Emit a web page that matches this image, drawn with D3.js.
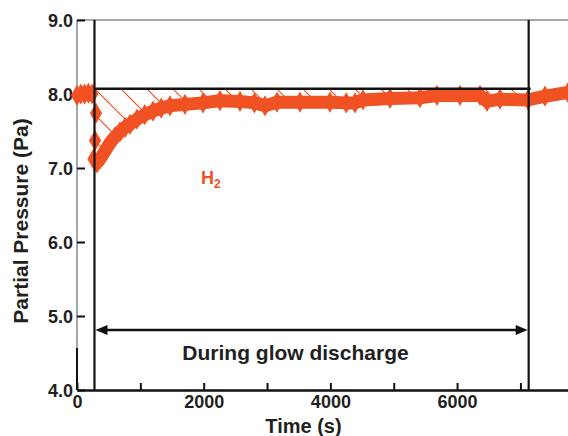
<!DOCTYPE html>
<html>
<head>
<meta charset="utf-8">
<script src="https://cdn.jsdelivr.net/npm/d3@7"></script>
<style>
  body { margin: 0; background: #fff; }
  svg text { font-family: "Liberation Sans", Arial, Helvetica, sans-serif; font-weight: bold; fill: #231f20; }
</style>
</head>
<body>
<svg id="chart" width="568" height="436"></svg>
<script>
// H2 partial pressure before the discharge (s, Pa)
const preTime = [0, 60, 120, 180, 240];
const prePressure = [7.98, 8.0, 8.0, 8.01, 8.0];

// scattered points of the sudden drop
const dropTime = [300, 285, 260];
const dropPressure = [7.74, 7.37, 7.12];

// main curve during/after the discharge
const curveTime = [316, 363, 442, 521, 600, 679, 760, 837, 947, 1070, 1200, 1330, 1468, 1705, 1989, 2257, 2573,
  2800, 2968, 3157, 3520, 3994, 4250, 4388, 4515, 4941, 5414, 5683, 6046, 6362, 6472, 6677, 7119, 7388, 7751];
const curvePressure = [7.07, 7.12, 7.23, 7.34, 7.42, 7.49, 7.55, 7.59, 7.66, 7.72, 7.77, 7.81, 7.84, 7.86, 7.88, 7.91, 7.90,
  7.88, 7.84, 7.89, 7.89, 7.89, 7.88, 7.88, 7.92, 7.94, 7.95, 7.98, 7.98, 7.98, 7.90, 7.93, 7.92, 7.97, 8.02];

const dischargeStart = 276;
const dischargeEnd = 7130;
const refLevel = 8.07;
const arrowLevel = 4.81;

const xTicks = [0, 1000, 2000, 3000, 4000, 5000, 6000, 7000];
const xTickLabels = ['0', '', '2000', '', '4000', '', '6000', ''];
const yTicks = [4, 5, 6, 7, 8, 9];
const yTickLabels = ['4.0', '5.0', '6.0', '7.0', '8.0', '9.0'];

const orange = '#f05224';

const svg = d3.select('#chart');
const x = d3.scaleLinear().domain([0, 7751]).range([77, 568]);
const y = d3.scaleLinear().domain([4, 9]).range([390, 20]);

// hatch pattern
const defs = svg.append('defs');
const pat = defs.append('pattern')
  .attr('id', 'hatch')
  .attr('patternUnits', 'userSpaceOnUse')
  .attr('width', 26).attr('height', 26)
  .attr('x', 94).attr('y', 88);
pat.append('line')
  .attr('x1', 0).attr('y1', 0).attr('x2', 26).attr('y2', 26)
  .attr('stroke', orange).attr('stroke-width', 1.2);
pat.append('line')
  .attr('x1', -13).attr('y1', 13).attr('x2', 13).attr('y2', 39)
  .attr('stroke', orange).attr('stroke-width', 1.2);
pat.append('line')
  .attr('x1', 13).attr('y1', -13).attr('x2', 39).attr('y2', 13)
  .attr('stroke', orange).attr('stroke-width', 1.2);

const curve = curveTime.map((t, i) => ({ t, p: curvePressure[i] }));
const pre = preTime.map((t, i) => ({ t, p: prePressure[i] }));
const drop = dropTime.map((t, i) => ({ t, p: dropPressure[i] }));

// hatched area between the reference level and the curve
const hatchData = [{ t: dischargeStart, p: 7.05 }].concat(curve.filter(d => d.t <= dischargeEnd));
svg.append('path')
  .datum(hatchData)
  .attr('fill', 'url(#hatch)')
  .attr('d', d3.area().x(d => x(d.t)).y0(y(refLevel)).y1(d => y(d.p)));

// frame: grey top and upper left, black lower part
svg.append('line').attr('x1', x(0)).attr('x2', 568).attr('y1', y(9)).attr('y2', y(9))
  .attr('stroke', '#8a8a8a').attr('stroke-width', 1.5);
svg.append('line').attr('x1', x(0)).attr('x2', x(0)).attr('y1', y(9)).attr('y2', 348)
  .attr('stroke', '#8a8a8a').attr('stroke-width', 1.5);
svg.append('line').attr('x1', x(0)).attr('x2', x(0)).attr('y1', 348).attr('y2', y(4))
  .attr('stroke', '#111').attr('stroke-width', 2);

// x axis
const xAxis = svg.append('g').attr('transform', `translate(0,${y(4)})`)
  .call(d3.axisBottom(x).tickValues(xTicks).tickSizeInner(-7).tickSizeOuter(0)
    .tickFormat((d, i) => xTickLabels[i]));
xAxis.select('.domain').attr('stroke', '#111').attr('stroke-width', 2.5);
xAxis.selectAll('.tick line').attr('stroke', '#111').attr('stroke-width', 2);
xAxis.selectAll('.tick text').attr('font-size', 18).attr('dy', 0).attr('y', 18)
  .style('font-family', '"Liberation Sans", Arial, sans-serif').style('font-weight', 'bold').attr('fill', '#231f20');

// y axis
const yAxis = svg.append('g').attr('transform', `translate(${x(0)},0)`)
  .call(d3.axisLeft(y).tickValues(yTicks).tickSizeInner(-8).tickSizeOuter(0)
    .tickFormat((d, i) => yTickLabels[i]));
yAxis.select('.domain').remove();
yAxis.selectAll('.tick line').attr('stroke', '#111').attr('stroke-width', 2);
yAxis.selectAll('.tick text').attr('font-size', 18).attr('x', -4).attr('dy', '0.36em')
  .style('font-family', '"Liberation Sans", Arial, sans-serif').style('font-weight', 'bold').attr('fill', '#231f20');

// data: thick band of diamonds
const line = d3.line().x(d => x(d.t)).y(d => y(d.p));
const diamond = d3.symbol().type(d3.symbolDiamond).size(130);
[pre, curve].forEach(series => {
  svg.append('path').datum(series)
    .attr('fill', 'none').attr('stroke', orange).attr('stroke-width', 13)
    .attr('stroke-linejoin', 'round').attr('d', line);
});
svg.append('g').selectAll('path')
  .data(pre.concat(drop, curve))
  .join('path')
  .attr('transform', d => `translate(${x(d.t)},${y(d.p)})`)
  .attr('d', diamond)
  .attr('fill', orange);

// reference lines
svg.append('line').attr('x1', x(dischargeStart)).attr('x2', x(dischargeEnd) + 2)
  .attr('y1', y(refLevel)).attr('y2', y(refLevel))
  .attr('stroke', '#111').attr('stroke-width', 2.5);
[dischargeStart, dischargeEnd].forEach(t => {
  svg.append('line').attr('x1', x(t)).attr('x2', x(t)).attr('y1', y(9)).attr('y2', y(4))
    .attr('stroke', '#111').attr('stroke-width', 2.2);
});

// double arrow
const ay = y(arrowLevel);
const ax0 = x(dischargeStart) + 1, ax1 = x(dischargeEnd) - 1;
svg.append('line').attr('x1', ax0 + 8).attr('x2', ax1 - 8).attr('y1', ay).attr('y2', ay)
  .attr('stroke', '#111').attr('stroke-width', 2.5);
svg.append('path').attr('d', `M${ax0},${ay}L${ax0 + 12},${ay - 5}L${ax0 + 12},${ay + 5}Z`).attr('fill', '#111');
svg.append('path').attr('d', `M${ax1},${ay}L${ax1 - 12},${ay - 5}L${ax1 - 12},${ay + 5}Z`).attr('fill', '#111');

svg.append('text').attr('x', 295.5).attr('y', 360).attr('text-anchor', 'middle')
  .attr('font-size', 21).text('During glow discharge');

// series label
const h2 = svg.append('text').attr('x', 201).attr('y', 184).attr('font-size', 18).style('fill', orange);
h2.append('tspan').text('H');
h2.append('tspan').attr('font-size', 12).attr('dy', 4).text('2');

// axis titles
svg.append('text').attr('x', 303.5).attr('y', 433).attr('text-anchor', 'middle')
  .attr('font-size', 20).text('Time (s)');
svg.append('text').attr('transform', 'translate(28,221) rotate(-90)').attr('text-anchor', 'middle')
  .attr('font-size', 21).text('Partial Pressure (Pa)');
</script>
</body>
</html>
